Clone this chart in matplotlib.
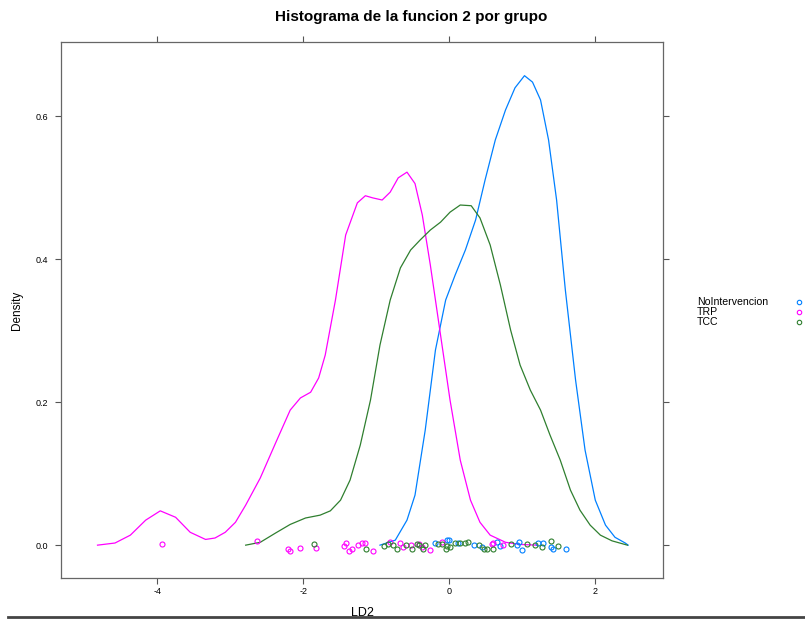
import matplotlib
matplotlib.use("Agg")
import matplotlib.pyplot as plt
from matplotlib.lines import Line2D

plt.rcParams['font.family'] = ['Liberation Sans', 'DejaVu Sans']

groups = ['NoIntervencion', 'TRP', 'TCC']
colors = {'NoIntervencion': '#0080ff', 'TRP': '#ff00ff', 'TCC': '#2f7f2f'}

# density curves (x = LD2, y = density)
curve_x = {
    'NoIntervencion': [-0.95, -0.74, -0.58, -0.47, -0.33, -0.19, -0.05, 0.08, 0.22, 0.36,
                       0.49, 0.63, 0.77, 0.90, 1.03, 1.14, 1.25, 1.36, 1.47, 1.59,
                       1.73, 1.86, 2.00, 2.14, 2.27, 2.41, 2.45],
    'TRP': [-4.82, -4.58, -4.37, -4.16, -3.96, -3.75, -3.55, -3.34, -3.21, -3.07,
            -2.93, -2.79, -2.59, -2.38, -2.18, -2.04, -1.90, -1.79, -1.70, -1.56,
            -1.42, -1.26, -1.15, -1.05, -0.92, -0.81, -0.70, -0.58, -0.47, -0.37,
            -0.26, -0.12, 0.01, 0.15, 0.29, 0.42, 0.56, 0.77, 0.97, 1.2],
    'TCC': [-2.79, -2.59, -2.38, -2.18, -1.97, -1.77, -1.63, -1.49, -1.36, -1.22,
            -1.08, -0.95, -0.81, -0.67, -0.53, -0.40, -0.26, -0.12, 0.01, 0.15,
            0.30, 0.42, 0.56, 0.70, 0.84, 0.97, 1.11, 1.25, 1.38, 1.52,
            1.66, 1.79, 1.93, 2.07, 2.23, 2.44],
}
curve_y = {
    'NoIntervencion': [0.0, 0.007, 0.035, 0.07, 0.161, 0.273, 0.343, 0.378, 0.413, 0.455,
                       0.511, 0.567, 0.609, 0.640, 0.657, 0.648, 0.623, 0.567, 0.483, 0.357,
                       0.231, 0.133, 0.063, 0.028, 0.011, 0.003, 0.0],
    'TRP': [0.0, 0.003, 0.014, 0.035, 0.048, 0.039, 0.018, 0.008, 0.01, 0.018,
            0.032, 0.056, 0.094, 0.143, 0.189, 0.206, 0.214, 0.234, 0.266, 0.343,
            0.434, 0.479, 0.489, 0.486, 0.483, 0.494, 0.514, 0.522, 0.506, 0.462,
            0.392, 0.294, 0.203, 0.119, 0.063, 0.032, 0.014, 0.004, 0.001, 0.0],
    'TCC': [0.0, 0.004, 0.017, 0.029, 0.038, 0.042, 0.048, 0.063, 0.091, 0.140,
            0.203, 0.280, 0.343, 0.388, 0.413, 0.427, 0.441, 0.452, 0.466, 0.476,
            0.475, 0.458, 0.420, 0.364, 0.301, 0.252, 0.217, 0.189, 0.154, 0.119,
            0.077, 0.049, 0.028, 0.014, 0.006, 0.0],
}

# rug points (jittered around zero)
rug_x = {
    'NoIntervencion': [-0.19, -0.03, -0.01, 0.12, 0.34, 0.45, 0.66, 0.70, 0.93, 0.96,
                       0.99, 1.22, 1.29, 1.40, 1.42, 1.60],
    'TRP': [-3.93, -2.63, -2.21, -2.18, -2.05, -1.83, -1.44, -1.41, -1.37, -1.33,
            -1.25, -1.19, -1.16, -1.05, -0.81, -0.67, -0.64, -0.53, -0.42, -0.38,
            -0.26, -0.10, 0.59, 0.60, 0.73],
    'TCC': [-1.85, -1.14, -0.90, -0.84, -0.77, -0.71, -0.60, -0.51, -0.44, -0.42,
            -0.33, -0.36, -0.16, -0.10, -0.03, -0.05, 0.01, 0.08, 0.15, 0.22,
            0.26, 0.41, 0.47, 0.52, 0.60, 0.84, 1.07, 1.18, 1.27, 1.40, 1.49],
}
rug_y = {
    'NoIntervencion': [0.003, 0.007, 0.007, 0.003, 0.0, -0.002, 0.005, -0.001, 0.0, 0.005,
                       -0.007, 0.003, 0.003, -0.002, -0.006, -0.006],
    'TRP': [0.001, 0.006, -0.005, -0.008, -0.004, -0.004, -0.001, 0.003, -0.008, -0.006,
            0.0, 0.003, 0.003, -0.008, 0.005, 0.003, -0.002, 0.0, 0.002, -0.002,
            -0.007, 0.004, 0.002, 0.003, 0.0],
    'TCC': [0.001, -0.005, -0.001, 0.002, 0.0, -0.005, 0.0, -0.005, 0.002, 0.0,
            0.0, -0.005, 0.001, 0.002, -0.001, -0.005, -0.003, 0.003, 0.003, 0.003,
            0.005, 0.0, -0.005, -0.005, -0.005, 0.001, 0.001, 0.0, -0.002, 0.006, -0.001],
}

x_ticks = [-4, -2, 0, 2]
y_ticks = [0.0, 0.2, 0.4, 0.6]

fig = plt.figure(figsize=(8.05, 6.19), dpi=100)
ax = fig.add_axes([0.0758, 0.0662, 0.748, 0.8658])

for g in groups:
    ax.plot(curve_x[g], curve_y[g], color=colors[g], lw=0.9)
for g in groups:
    ax.plot(rug_x[g], rug_y[g], ls='none', marker='o', ms=3.6, mfc='none',
            mec=colors[g], mew=0.8)

ax.set_xlim(-5.32, 2.93)
ax.set_ylim(-0.046, 0.704)
ax.set_xticks(x_ticks)
ax.set_xticklabels([str(t) for t in x_ticks])
ax.set_yticks(y_ticks)
ax.set_yticklabels(['%.1f' % t for t in y_ticks])
ax.tick_params(direction='out', length=4.5, width=0.8, color='#555555',
               labelsize=6.5, top=True, right=True, labeltop=False, labelright=False)
ax.tick_params(axis='x', pad=2)
ax.tick_params(axis='y', pad=5)
for s in ax.spines.values():
    s.set_color('#666666')
    s.set_linewidth(0.9)

ax.set_xlabel('LD2', fontsize=9)
ax.xaxis.set_label_coords(0.5, -0.054)
ax.set_ylabel('Density', fontsize=8.5)
ax.yaxis.set_label_coords(-0.063, 0.5)
fig.text(0.511, 0.972, 'Histograma de la funcion 2 por grupo', ha='center', va='center',
         fontsize=11, fontweight='bold')

# legend on the right, text then open circle
leg_y = [0.5125, 0.4965, 0.4805]
for g, yy in zip(groups, leg_y):
    fig.text(0.866, yy, g, fontsize=7.6, ha='left', va='center')
    fig.add_artist(Line2D([0.993], [yy], transform=fig.transFigure, ls='none', marker='o',
                          ms=3.2, mfc='none', mec=colors[g], mew=0.8))

# page rule at the bottom
fig.add_artist(Line2D([0.01, 1.0], [0.003, 0.003], transform=fig.transFigure,
                      color='#444444', lw=2))

fig.savefig('out.png', dpi=100)
